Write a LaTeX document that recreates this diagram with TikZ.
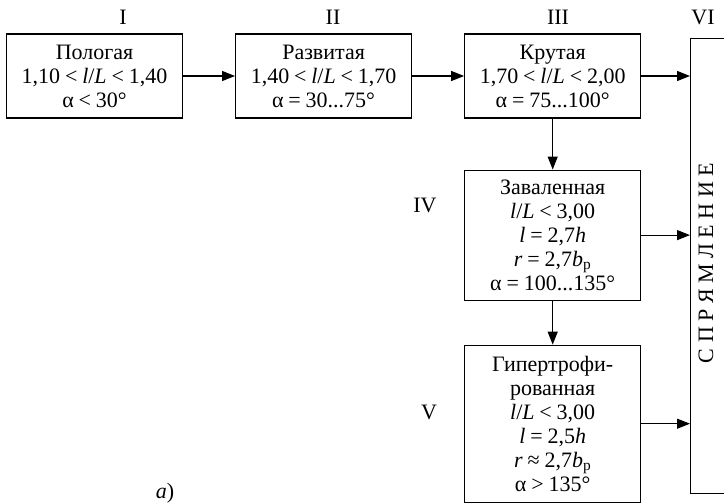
\documentclass[tikz,border=0pt]{standalone}
\usepackage{fontspec}
\setmainfont{Liberation Serif}
\usetikzlibrary {arrows.meta,
                 calc,
                 positioning}
\tikzset{
        base/.style={draw, align=center, line width=1.1pt, inner sep=0pt,
                     font=\fontsize{22}{24}\selectfont},
        proc/.style={base, rectangle, text width=176pt, minimum height=84pt},
        lbl/.style={font=\fontsize{22}{24}\selectfont, inner sep=0pt},
        myarrow/.style={-{Triangle[length=13pt, width=10pt]}, line width=1.1pt},
 }
% thin spaces round relation signs
\newcommand{\rel}[1]{\hspace{0.22em}#1\hspace{0.22em}}

\begin{document}
\begin{tikzpicture}[x=1pt, y=1pt]
    \useasboundingbox (0,0) rectangle (724,-504);

    \node[proc] (a) at (94.5,-76) {Пологая\\
          1,10\rel{<}\textit{l}/\textit{L}\rel{<}1,40\\ α\rel{<}30°};
    \node[proc, right=52pt of a] (b) {Развитая\\
          1,40\rel{<}\textit{l}/\textit{L}\rel{<}1,70\\ α\rel{=}30...75°};
    \node[proc, right=52pt of b] (c) {Крутая\\
          1,70\rel{<}\textit{l}/\textit{L}\rel{<}2,00\\ α\rel{=}75...100°};
    \node[proc, minimum height=130pt, below=51pt of c] (d) {Заваленная\\
          \textit{l}/\textit{L}\rel{<}3,00\\ \textit{l}\rel{=}2,7\textit{h}\\
          \textit{r}\rel{=}2,7\textit{b}\textsubscript{р}\\ α\rel{=}100...135°};
    \node[proc, minimum height=157pt, below=44pt of d] (e) {Гипертрофи-\\
          рованная\\ \textit{l}/\textit{L}\rel{<}3,00\\ \textit{l}\rel{=}2,5\textit{h}\\
          \textit{r}\rel{≈}2,7\textit{b}\textsubscript{р}\\ α\rel{>}135°};

    % right-hand box runs past the edge
    \node[base, minimum width=60pt, minimum height=455pt,
          anchor=north west] (f) at (690,-38) {};
    \node[lbl, rotate=90] (ft) at (706,-263) {С П Р Я М Л Е Н И Е};

    \node[lbl] (la) at (123,-17) {I};
    \node[lbl] (lb) at (333,-17) {II};
    \node[lbl] (lc) at (558,-17) {III};
    \node[lbl] (lf) at (703,-17) {VI};
    \node[lbl] (ld) at (425,-205) {IV};
    \node[lbl] (le) at (429,-412) {V};
    \node[lbl] (cap) at (165,-493) {\textit{a})};

    \draw[myarrow] (a) -- (b);
    \draw[myarrow] (b) -- (c);
    \draw[myarrow] (c) -- (d);
    \draw[myarrow] (d) -- (e);

    \draw[myarrow] (c.east) -- (c.east -| f.west);
    \draw[myarrow] (d.east) -- (d.east -| f.west);
    \draw[myarrow] (e.east) -- (e.east -| f.west);

\end{tikzpicture}
\end{document}
